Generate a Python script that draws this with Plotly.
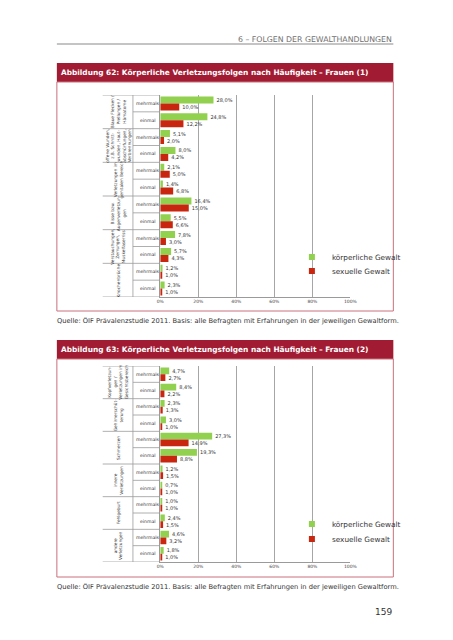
import plotly.graph_objects as go

# The page is 453x640; the HTML body adds an 8px margin, so the figure covers page px 8..453 / 8..632
OFF = 8
FW, FH = 445, 624
def px(x): return (x - OFF) / FW
def py(y): return 1 - (y - OFF) / FH

# ---------------- data ----------------
series_names = ["körperliche Gewalt", "sexuelle Gewalt"]
freq_labels = ["mehrmals", "einmal"]
x_ticks = [0, 20, 40, 60, 80, 100]
x_ticklabels = ["0%", "20%", "40%", "60%", "80%", "100%"]

groups1 = [
    "Blaue Flecken /<br>Prellungen /<br>Hämatome",
    "offene Wunden,<br>z.B. Schnitt-<br>wunden, Haut-<br>abschürfungen,<br>Verbrennungen",
    "Verletzungen im<br>genitalen Bereich",
    "Bisse bzw.<br>Augenverletzun-<br>gen",
    "Verstauchungen,<br>Zerrungen,<br>Muskelfaserriss",
    "Knochenbrüche",
]
phys1 = [28.0, 24.8, 5.1, 8.0, 2.1, 1.4, 16.4, 5.5, 7.8, 5.7, 1.2, 2.3]
sex1 = [10.0, 12.2, 2.0, 4.2, 5.0, 6.8, 15.0, 6.6, 3.0, 4.3, 1.0, 1.0]

groups2 = [
    "Kopfverletzun-<br>gen /<br>Verletzungen im<br>Gesichtsbereich",
    "Gehirnerschüt-<br>terung",
    "Schmerzen",
    "innere<br>Verletzungen",
    "Fehlgeburt",
    "andere<br>Verletzungen",
]
phys2 = [4.7, 8.4, 2.3, 3.0, 27.3, 19.3, 1.2, 0.7, 1.0, 2.4, 4.6, 1.8]
sex2 = [2.7, 2.2, 1.3, 1.0, 14.9, 8.8, 1.5, 1.0, 1.0, 1.5, 3.2, 1.0]

titles = [
    "Abbildung 62: Körperliche Verletzungsfolgen nach Häufigkeit – Frauen (1)",
    "Abbildung 63: Körperliche Verletzungsfolgen nach Häufigkeit – Frauen (2)",
]
source = "Quelle: ÖIF Prävalenzstudie 2011. Basis: alle Befragten mit Erfahrungen in der jeweiligen Gewaltform."
header = "6 – FOLGEN DER GEWALTHANDLUNGEN"
page_no = "159"

# ---------------- style ----------------
GREEN = "#92d050"
RED = "#c8260f"
CRIMSON = "#a11c33"
BOXLINE = "#c9707d"
GRID = "#a6a6a6"
SEP = "#9a9a9a"
FONT = "DejaVu Sans"

def fmt(v):
    return f"{v:.1f}%".replace(".", ",")

fig = go.Figure()

charts = [
    dict(groups=groups1, phys=phys1, sex=sex1, xa="x", ya="y", legs=("legend", "legend2"),
         top=95, bot=297, title_top=63, title_bot=82, box_bot=311, src_y=320, leg_y=(257, 271)),
    dict(groups=groups2, phys=phys2, sex=sex2, xa="x2", ya="y2", legs=("legend3", "legend4"),
         top=366, bot=562, title_top=340, title_bot=359, box_bot=577, src_y=586, leg_y=(524, 539)),
]

shapes = []
annotations = []
X0, X100 = 160, 355
legends = {}

for ci, c in enumerate(charts):
    n = len(c["phys"])
    rows = list(range(n))
    for si, (vals, col) in enumerate([(c["phys"], GREEN), (c["sex"], RED)]):
        fig.add_trace(go.Bar(
            orientation="h", x=vals, y=rows, name=series_names[si], marker_color=col,
            marker_line_width=0, showlegend=False,
            xaxis=c["xa"], yaxis=c["ya"],
            text=[fmt(v) for v in vals], textposition="outside",
            textfont=dict(size=5, color="#333333", family=FONT),
            constraintext="none", cliponaxis=False, hoverinfo="skip",
        ))
        # legend entry (small square key, like the original)
        fig.add_trace(go.Scatter(
            x=[None], y=[None], mode="markers", name=series_names[si],
            marker=dict(symbol="square", size=6, color=col),
            xaxis=c["xa"], yaxis=c["ya"], legend=c["legs"][si], showlegend=True, hoverinfo="skip",
        ))
        legends[c["legs"][si]] = dict(
            x=px(295), y=py(c["leg_y"][si]), xanchor="left", yanchor="middle",
            bgcolor="rgba(0,0,0,0)", font=dict(size=7.3, color="#333", family=FONT),
            itemwidth=30, tracegroupgap=0, borderwidth=0,
        )
    yref = c["ya"]
    # category labels
    for i in rows:
        annotations.append(dict(text=freq_labels[i % 2], x=px(147), xref="paper", y=i, yref=yref,
                                showarrow=False, font=dict(size=4.6, color="#333", family=FONT),
                                xanchor="center", yanchor="middle"))
    for g, lab in enumerate(c["groups"]):
        annotations.append(dict(text=lab, x=px(117), xref="paper", y=2 * g + 0.5, yref=yref,
                                showarrow=False, textangle=-90, align="center",
                                font=dict(size=4.3, color="#333", family=FONT),
                                xanchor="center", yanchor="middle"))
    # separators in label area
    for b in range(n + 1):
        yb = b - 0.5
        x_start = 101 if b % 2 == 0 else 132
        shapes.append(dict(type="line", xref="paper", yref=yref, x0=px(x_start), x1=px(X0),
                           y0=yb, y1=yb, line=dict(color=SEP, width=0.8)))
    shapes.append(dict(type="line", xref="paper", yref=yref, x0=px(132), x1=px(132),
                       y0=-0.5, y1=n - 0.5, line=dict(color=SEP, width=0.8)))
    # title bar
    shapes.append(dict(type="rect", xref="paper", yref="paper", x0=px(54), x1=px(399),
                       y0=py(c["title_bot"]), y1=py(c["title_top"]),
                       fillcolor=CRIMSON, line=dict(width=0), layer="below"))
    # chart box
    shapes.append(dict(type="rect", xref="paper", yref="paper", x0=px(54), x1=px(399),
                       y0=py(c["box_bot"]), y1=py(c["title_bot"]),
                       fillcolor="rgba(0,0,0,0)", line=dict(color=BOXLINE, width=1), layer="below"))
    annotations.append(dict(text="<b>" + titles[ci] + "</b>", x=px(56), y=py((c["title_top"] + c["title_bot"]) / 2),
                            xref="paper", yref="paper", showarrow=False, xanchor="left", yanchor="middle",
                            font=dict(size=7.4, color="white", family=FONT)))
    annotations.append(dict(text=source, x=px(52), y=py(c["src_y"]), xref="paper", yref="paper",
                            showarrow=False, xanchor="left", yanchor="middle",
                            font=dict(size=6.7, color="#333", family=FONT)))

# header
annotations.append(dict(text=header, x=px(400), y=py(39), xref="paper", yref="paper", showarrow=False,
                        xanchor="right", yanchor="middle", font=dict(size=7.8, color="#6f6f6f", family=FONT)))
shapes.append(dict(type="line", xref="paper", yref="paper", x0=px(54), x1=px(399), y0=py(44), y1=py(44),
                   line=dict(color="#b0b0b0", width=1.5)))
annotations.append(dict(text=page_no, x=px(400), y=py(612), xref="paper", yref="paper", showarrow=False,
                        xanchor="right", yanchor="middle", font=dict(size=9, color="#333", family=FONT)))

def xaxis_cfg(anchor):
    return dict(domain=[px(X0), px(X100)], range=[0, 100], anchor=anchor,
                tickvals=x_ticks, ticktext=x_ticklabels, tickfont=dict(size=4.5, color="#444", family=FONT),
                showgrid=True, gridcolor=GRID, gridwidth=1, zeroline=False,
                showline=True, linecolor=SEP, linewidth=0.8, ticks="", fixedrange=True)

def yaxis_cfg(anchor, top, bot):
    return dict(domain=[py(bot), py(top)], range=[11.5, -0.5], anchor=anchor,
                showticklabels=False, showgrid=False, zeroline=False,
                showline=True, linecolor=SEP, linewidth=0.8, ticks="", fixedrange=True)

fig.update_layout(
    width=FW, height=FH, margin=dict(l=0, r=0, t=0, b=0),
    paper_bgcolor="white", plot_bgcolor="white",
    barmode="group", bargap=0.17, bargroupgap=0,
    font=dict(family=FONT),
    xaxis=xaxis_cfg("y"), yaxis=yaxis_cfg("x", charts[0]["top"], charts[0]["bot"]),
    xaxis2=xaxis_cfg("y2"), yaxis2=yaxis_cfg("x2", charts[1]["top"], charts[1]["bot"]),
    shapes=shapes, annotations=annotations, showlegend=True,
    **legends,
)

fig.write_html("out.html")
